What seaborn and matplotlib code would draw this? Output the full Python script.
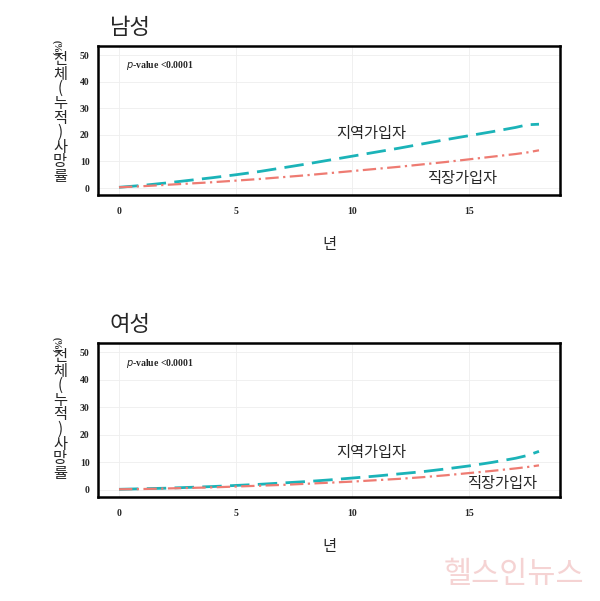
import matplotlib
matplotlib.use("Agg")
import matplotlib.pyplot as plt
import seaborn as sns
import pandas as pd

sns.set_theme(style="whitegrid")
plt.rcParams['font.family'] = ['Noto Sans CJK KR', 'DejaVu Sans']

years = [0, 1, 2, 3, 4, 5, 6, 7, 8, 9, 10, 11, 12, 13, 14, 15, 16, 17, 17.5, 18]
men_regional = [0.3, 1.0, 1.9, 2.9, 3.9, 5.0, 6.2, 7.6, 9.0, 10.5, 12.0, 13.5, 15.0, 16.6, 18.2, 19.7, 21.2, 22.8, 23.8, 24.0]
men_work = [0.3, 0.7, 1.2, 1.7, 2.2, 2.8, 3.4, 4.1, 4.8, 5.6, 6.4, 7.2, 8.0, 8.9, 9.8, 10.8, 11.8, 12.8, 13.4, 14.2]
women_regional = [0.2, 0.4, 0.6, 0.9, 1.2, 1.6, 2.0, 2.5, 3.0, 3.6, 4.3, 5.0, 5.8, 6.6, 7.6, 8.7, 10.0, 11.5, 12.5, 14.0]
women_work = [0.2, 0.3, 0.5, 0.7, 0.9, 1.2, 1.5, 1.8, 2.2, 2.6, 3.0, 3.5, 4.0, 4.6, 5.3, 6.1, 6.9, 7.8, 8.3, 8.9]
yticks = [0, 10, 20, 30, 40, 50]
xticks = [0, 5, 10, 15]

fig = plt.figure(figsize=(6, 6.01), dpi=100)
W, H = 600, 601
teal = "#1bb3b8"
salmon = "#ee7b72"

def panel(top, bottom, title, reg, work, reg_lab, work_lab):
    ax = fig.add_axes([98 / W, 1 - bottom / H, 462 / W, (bottom - top) / H])
    df = pd.DataFrame({"년": years, "지역": reg, "직장": work})
    sns.lineplot(data=df, x="년", y="지역", ax=ax, color=teal, lw=2, dashes=False)
    sns.lineplot(data=df, x="년", y="직장", ax=ax, color=salmon, lw=1.6, dashes=False)
    ax.lines[0].set_dashes([7, 3])
    ax.lines[1].set_dashes([6, 2, 1, 2])
    ax.set_xlim(-0.9, 18.9)
    ax.set_ylim(-2.6, 53.4)
    ax.set_xticks(xticks)
    ax.set_yticks(yticks)
    ax.set_xticklabels([str(t) for t in xticks], family="Liberation Serif", fontweight="bold", fontsize=7)
    ax.set_yticklabels([str(t) for t in yticks], family="Liberation Serif", fontweight="bold", fontsize=7)
    ax.tick_params(axis="x", pad=9, length=0)
    ax.tick_params(axis="y", pad=6, length=0)
    ax.grid(color="#eeeeee", lw=0.6)
    for s in ax.spines.values():
        s.set_color("black"); s.set_linewidth(1.8)
    ax.set_xlabel("년", fontsize=11, labelpad=14)
    ax.set_ylabel("")
    ax.text(0.06, 0.85, "$\\mathbf{\\it{p}}$-value <0.0001", transform=ax.transAxes, fontsize=7,
            fontweight="bold", family="Liberation Serif")
    ax.text(reg_lab[0], reg_lab[1], "지역가입자", fontsize=11)
    ax.text(work_lab[0], work_lab[1], "직장가입자", fontsize=11)
    fig.text(52 / W, 1 - (top - 6) / H, "(%)", rotation=270, fontsize=7, fontweight="bold", family="Liberation Serif", va="top")
    fig.text(60 / W, 1 - (top + 72) / H, "전\n체\n(\n누\n적\n)\n사\n망\n률", fontsize=11,
             ha="center", va="center", linespacing=0.82)
    fig.text(110 / W, 1 - (top - 12) / H, title, fontsize=16)
    return ax

panel(46, 195, "남성", men_regional, men_work, (9.3, 19), (13.2, 2))
panel(343, 497, "여성", women_regional, women_work, (9.3, 12), (14.9, 0.5))

fig.text(0.74, 0.03, "헬스인뉴스", fontsize=22, color="#f3c9c9", alpha=0.8)
fig.savefig("out.png", dpi=100)
